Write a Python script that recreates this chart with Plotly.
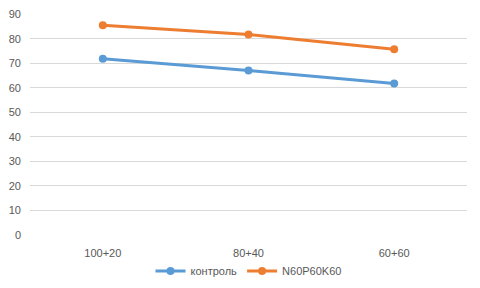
import plotly.graph_objects as go

categories = ["100+20", "80+40", "60+60"]
kontrol = [71.8, 67.0, 61.7]
npk = [85.5, 81.7, 75.7]

fig = go.Figure()
fig.add_trace(go.Scatter(x=categories, y=kontrol, name="контроль", mode="lines+markers",
                         line=dict(color="#5B9BD5", width=3), marker=dict(size=8, color="#5B9BD5")))
fig.add_trace(go.Scatter(x=categories, y=npk, name="N60P60K60", mode="lines+markers",
                         line=dict(color="#ED7D31", width=3), marker=dict(size=8, color="#ED7D31")))

fig.update_layout(
    width=472, height=280,
    margin=dict(l=22, r=13, t=6, b=53, autoexpand=False),
    paper_bgcolor="white", plot_bgcolor="white",
    font=dict(family="Liberation Sans", size=11, color="#595959"),
    showlegend=True,
    legend=dict(orientation="h", x=0.5, xanchor="center", y=-0.163, yanchor="middle",
                font=dict(size=11, color="#595959"), itemwidth=30, tracegroupgap=0),
    xaxis=dict(type="category", range=[-0.5, 2.5], showgrid=False, showline=False,
               ticks="", zeroline=False, automargin=False, ticklabelstandoff=10,
               tickfont=dict(size=11, color="#595959")),
    yaxis=dict(range=[0, 90.05], tickvals=list(range(0, 100, 10)), showgrid=True,
               gridcolor="#D9D9D9", gridwidth=1, ticklabeloverflow="allow",
               zeroline=False, showline=False, ticks="", automargin=False, ticklabelstandoff=8,
               tickfont=dict(size=11, color="#595959")),
)

fig.write_html("out.html")
